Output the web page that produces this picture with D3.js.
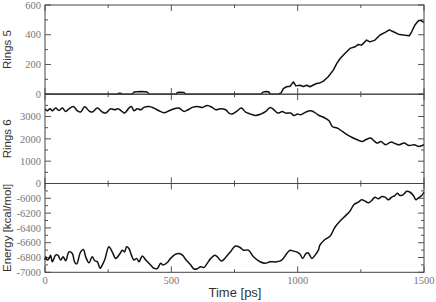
<!DOCTYPE html>
<html><head><meta charset="utf-8">
<script src="https://cdn.jsdelivr.net/npm/d3@7"></script>
<style>body{margin:0;background:#fff}svg{display:block}</style>
</head><body>
<svg id="c" width="436" height="302"></svg>
<script>
// ---- data ----
const rings5 = [[0,0],[285,0],[292,6],[300,6],[305,0],[345,0],[352,14],[365,16],[380,18],[395,16],[405,14],[412,0],[520,0],[524,12],[535,13],[550,12],[556,0],[855,0],[862,14],[875,18],[885,16],[892,0],[925,0],[935,10],[943,38],[956,50],[970,54],[983,83],[993,56],[1009,60],[1022,52],[1036,60],[1049,50],[1062,62],[1075,72],[1088,76],[1102,88],[1121,117],[1141,162],[1155,207],[1168,240],[1187,274],[1207,308],[1227,319],[1240,335],[1253,330],[1273,364],[1286,352],[1306,364],[1326,398],[1346,416],[1363,433],[1379,420],[1398,404],[1418,398],[1442,393],[1451,420],[1464,465],[1478,494],[1486,497],[1500,483]];
const rings6 = [[0,3347],[9,3257],[20,3347],[29,3257],[42,3378],[55,3270],[69,3378],[82,3226],[95,3347],[112,3450],[128,3257],[141,3199],[157,3436],[174,3257],[187,3199],[207,3378],[227,3199],[240,3154],[260,3347],[276,3302],[289,3347],[302,3257],[315,3154],[332,3378],[342,3450],[352,3257],[365,3347],[379,3302],[392,3408],[412,3450],[431,3378],[451,3257],[471,3169],[491,3257],[511,3347],[530,3378],[550,3226],[566,3302],[583,3408],[603,3450],[623,3408],[642,3497],[662,3408],[676,3302],[695,3347],[715,3302],[728,3154],[741,3110],[748,3154],[761,3257],[777,3378],[794,3199],[814,3109],[834,3046],[854,3109],[874,3226],[891,3405],[906,3302],[922,3154],[939,3226],[953,3154],[972,3154],[986,3046],[999,3109],[1012,3080],[1032,3199],[1052,3257],[1065,3199],[1085,3046],[1104,2957],[1124,2809],[1137,2554],[1157,2482],[1177,2330],[1197,2182],[1216,2061],[1236,1958],[1256,1882],[1269,1958],[1289,2034],[1302,1913],[1315,1810],[1329,1882],[1348,1734],[1368,1853],[1388,1780],[1401,1734],[1421,1810],[1441,1705],[1461,1734],[1480,1660],[1493,1705],[1500,1734]];
const energy = [[0,-6835],[3,-6791],[9,-6835],[16,-6812],[22,-6768],[29,-6858],[42,-6768],[51,-6768],[62,-6835],[72,-6791],[82,-6844],[95,-6724],[108,-6745],[117,-6858],[125,-6889],[141,-6724],[152,-6691],[161,-6791],[174,-6871],[187,-6791],[197,-6844],[207,-6858],[218,-6946],[223,-6925],[236,-6835],[253,-6656],[266,-6724],[280,-6812],[297,-6745],[306,-6701],[315,-6724],[323,-6656],[332,-6678],[342,-6768],[352,-6835],[363,-6812],[372,-6858],[385,-6781],[399,-6835],[418,-6902],[431,-6946],[445,-6946],[458,-6879],[468,-6902],[484,-6868],[497,-6812],[517,-6754],[530,-6745],[544,-6768],[557,-6826],[577,-6902],[590,-6956],[603,-6951],[616,-6925],[629,-6935],[642,-6879],[656,-6812],[672,-6768],[682,-6791],[698,-6848],[708,-6826],[722,-6768],[735,-6720],[752,-6647],[772,-6665],[785,-6701],[805,-6701],[825,-6791],[851,-6858],[871,-6879],[891,-6858],[917,-6858],[937,-6835],[957,-6745],[970,-6701],[983,-6714],[996,-6724],[1009,-6754],[1020,-6812],[1033,-6745],[1042,-6739],[1056,-6812],[1069,-6768],[1082,-6701],[1088,-6634],[1108,-6557],[1128,-6513],[1148,-6388],[1168,-6308],[1187,-6244],[1207,-6173],[1223,-6083],[1240,-6053],[1253,-6020],[1267,-6039],[1280,-6061],[1293,-6030],[1306,-5985],[1319,-6007],[1333,-5976],[1346,-5985],[1359,-6020],[1372,-5985],[1385,-5963],[1394,-5932],[1405,-5963],[1418,-5949],[1432,-5905],[1445,-5918],[1458,-5963],[1468,-6020],[1478,-5994],[1491,-5963],[1500,-5918]];
const timeTicks = [0,500,1000,1500];
const rings5Ticks = [0,200,400,600];
const rings6Ticks = [0,1000,2000,3000];
const energyTicks = [-7000,-6800,-6600,-6400,-6200,-6000];
const yTitles = ["Rings 5","Rings 6","Energy [kcal/mol]"];
const xTitle = "Time [ps]";

// ---- layout ----
const svg = d3.select("#c");
const L = 45, R = 424, tops = [5, 94.2, 183.5], B = 272.3;
const x = d3.scaleLinear().domain([0,1500]).range([L,R]);
const panels = [
  {data:rings5, dom:[0,600], ticks:rings5Ticks, minor:100, top:tops[0], bot:tops[1], curve:d3.curveLinear},
  {data:rings6, dom:[0,4000], ticks:rings6Ticks, minor:500, top:tops[1], bot:tops[2], curve:d3.curveCatmullRom.alpha(0.5)},
  {data:energy, dom:[-7000,-5800], ticks:energyTicks, minor:100, top:tops[2], bot:B, curve:d3.curveCatmullRom.alpha(0.5)}
];
const frameCol = "#444", tickCol = "#555", labCol = "#777";
const serif = "'Liberation Serif','DejaVu Serif',serif";
const sans = "'Liberation Sans',Arial,sans-serif";

panels.forEach((p,i)=>{
  const y = d3.scaleLinear().domain(p.dom).range([p.bot,p.top]);
  const g = svg.append("g");
  const minorVals = d3.range(p.dom[0], p.dom[1]+1e-6, p.minor);
  minorVals.forEach(v=>{
    const major = p.ticks.includes(v) || (i===1 && v%1000===0) || (i===2 && (v+7000)%200===0);
    const len = major ? 6 : 3;
    g.append("line").attr("x1",L).attr("x2",L+len).attr("y1",y(v)).attr("y2",y(v)).attr("stroke",tickCol).attr("stroke-width",1);
    g.append("line").attr("x1",R).attr("x2",R-len).attr("y1",y(v)).attr("y2",y(v)).attr("stroke",tickCol).attr("stroke-width",1);
  });
  d3.range(0,1501,250).forEach(t=>{
    const len = timeTicks.includes(t) ? 6 : 3;
    g.append("line").attr("x1",x(t)).attr("x2",x(t)).attr("y1",p.top).attr("y2",p.top+len).attr("stroke",tickCol);
    g.append("line").attr("x1",x(t)).attr("x2",x(t)).attr("y1",p.bot).attr("y2",p.bot-len).attr("stroke",tickCol);
  });
  p.ticks.forEach(v=>{
    g.append("text").attr("x",41).attr("y",y(v)).attr("dy","0.35em")
      .attr("text-anchor","end").attr("font-family",serif).attr("font-size",10.5)
      .attr("fill",labCol).text(v);
  });
  const line = d3.line().curve(p.curve).x(d=>x(d[0])).y(d=>y(d[1]));
  g.append("path").datum(p.data).attr("d",line).attr("fill","none")
    .attr("stroke","#111").attr("stroke-width",1.5).attr("stroke-linejoin","round");
  g.append("rect").attr("x",L).attr("y",p.top).attr("width",R-L).attr("height",p.bot-p.top)
    .attr("fill","none").attr("stroke",frameCol).attr("stroke-width",1);
  const cy = (p.top+p.bot)/2;
  g.append("text").attr("transform",`translate(11,${cy}) rotate(-90)`)
    .attr("text-anchor","middle").attr("font-family",sans).attr("font-size",11.5)
    .attr("fill","#333").text(yTitles[i]);
});
timeTicks.forEach(t=>{
  svg.append("text").attr("x",x(t)).attr("y",284).attr("text-anchor","middle")
    .attr("font-family",serif).attr("font-size",10.5).attr("fill",labCol).text(t);
});
svg.append("text").attr("x",235).attr("y",297).attr("text-anchor","middle")
  .attr("font-family",sans).attr("font-size",13).attr("fill","#333").text(xTitle);
</script>
</body></html>
